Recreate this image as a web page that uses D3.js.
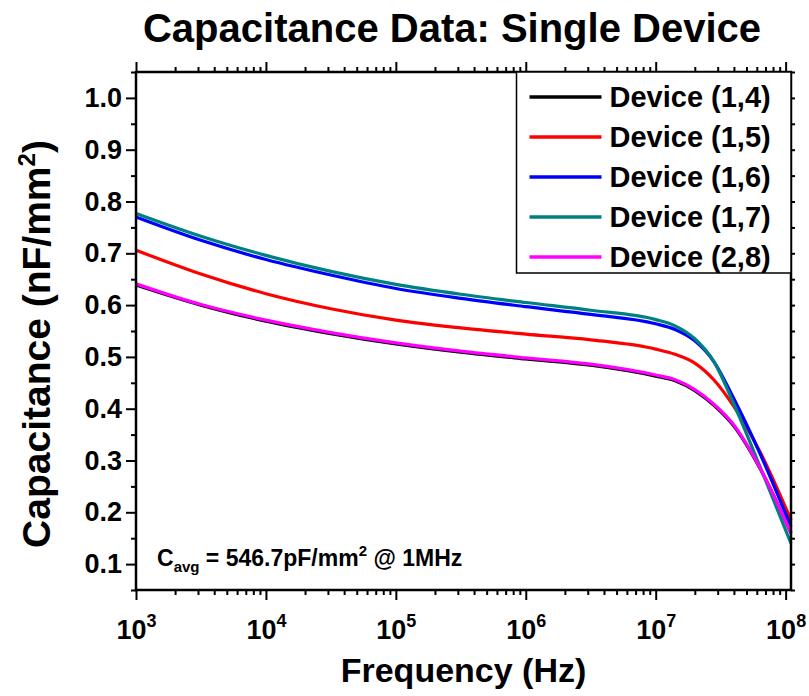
<!DOCTYPE html>
<html>
<head>
<meta charset="utf-8">
<script src="https://cdn.jsdelivr.net/npm/d3@7"></script>
<style>
    body { margin: 0; background: #ffffff; }
    text { font-family: "Liberation Sans", Arial, sans-serif; font-weight: bold; fill: #000; }
</style>
</head>
<body>
<svg id="drawing_region"></svg>
<script>
// frequency points (Hz) the curves were read at
const freqs = [1e3, 3.16e3, 1e4, 3.16e4, 1e5, 3.16e5, 1e6, 3.16e6, 1e7, 1.41e7, 2e7, 2.82e7, 3.98e7, 6.31e7, 1.1e8];

// capacitance (nF/mm^2) per device
const cap14 = [0.639, 0.600, 0.569, 0.545, 0.525, 0.509, 0.496, 0.484, 0.463, 0.454, 0.435, 0.406, 0.367, 0.286, 0.160];
const cap15 = [0.706, 0.660, 0.622, 0.593, 0.571, 0.556, 0.544, 0.533, 0.515, 0.505, 0.488, 0.455, 0.405, 0.318, 0.185];
const cap16 = [0.770, 0.725, 0.688, 0.658, 0.632, 0.613, 0.597, 0.582, 0.564, 0.553, 0.531, 0.490, 0.420, 0.315, 0.172];
const cap17 = [0.777, 0.733, 0.696, 0.665, 0.640, 0.621, 0.605, 0.590, 0.572, 0.560, 0.535, 0.490, 0.410, 0.290, 0.140];
const cap28 = [0.641, 0.601, 0.571, 0.547, 0.527, 0.511, 0.498, 0.486, 0.465, 0.456, 0.437, 0.408, 0.369, 0.287, 0.160];

const deviceNames = ['Device (1,4)', 'Device (1,5)', 'Device (1,6)', 'Device (1,7)', 'Device (2,8)'];
const deviceColors = ['#000000', '#ff0000', '#0000ff', '#008080', '#ff00ff'];

const xMajorTicks = [1e3, 1e4, 1e5, 1e6, 1e7, 1e8];
const xTickExponents = ['3', '4', '5', '6', '7', '8'];
const yMajorTicks = [0.1, 0.2, 0.3, 0.4, 0.5, 0.6, 0.7, 0.8, 0.9, 1.0];
const yTickLabels = ['0.1', '0.2', '0.3', '0.4', '0.5', '0.6', '0.7', '0.8', '0.9', '1.0'];
const yMinorTicks = [0.05, 0.15, 0.25, 0.35, 0.45, 0.55, 0.65, 0.75, 0.85, 0.95, 1.05];

const series = [cap14, cap15, cap16, cap17, cap28].map((vals, i) => ({
    name: deviceNames[i],
    color: deviceColors[i],
    values: vals.map((v, j) => ({ f: freqs[j], c: v }))
}));

class CapPlot {
    constructor(config, data) {
        this.config = config;
        this.data = data;
        this.init();
    }

    init() {
        let self = this;
        const m = self.config.margin;

        self.svg = d3.select(self.config.parent)
            .attr('width', self.config.width)
            .attr('height', self.config.height);

        self.left = m.left;
        self.right = self.config.width - m.right;
        self.top = m.top;
        self.bottom = self.config.height - m.bottom;

        self.xscale = d3.scaleLog()
            .domain([1e3, 1.1e8])
            .range([self.left, self.right]);

        self.yscale = d3.scaleLinear()
            .domain([0.05, 1.05])
            .range([self.bottom, self.top]);

        // minor ticks on the log axis: 2..9 in each decade
        self.xMinor = [];
        xMajorTicks.forEach(d => {
            for (let k = 2; k <= 9; k++) {
                if (d * k <= 1.1e8) self.xMinor.push(d * k);
            }
        });
    }

    render() {
        let self = this;

        const line = d3.line()
            .x(d => self.xscale(d.f))
            .y(d => self.yscale(d.c))
            .curve(d3.curveMonotoneX);

        self.svg.append('g')
            .selectAll('path')
            .data(self.data)
            .join('path')
            .attr('d', d => line(d.values))
            .attr('fill', 'none')
            .attr('stroke', d => d.color)
            .attr('stroke-width', 3.2);

        self.drawAxes();
        self.drawLegend();
        self.drawTexts();
    }

    drawAxes() {
        let self = this;
        const tidy = g => {
            g.select('.domain').remove();
            g.selectAll('line').attr('stroke', '#000').attr('stroke-width', 2);
        };

        // bottom
        self.svg.append('g')
            .attr('transform', `translate(0, ${self.bottom})`)
            .call(d3.axisBottom(self.xscale).tickValues(self.xMinor).tickSize(5).tickFormat(''))
            .call(tidy);
        const xb = self.svg.append('g')
            .attr('transform', `translate(0, ${self.bottom})`)
            .call(d3.axisBottom(self.xscale).tickValues(xMajorTicks).tickSize(10).tickPadding(20).tickFormat(''))
            .call(tidy);
        xb.selectAll('text')
            .attr('font-size', 27)
            .each(function (d) {
                const t = d3.select(this);
                t.append('tspan').text('10');
                t.append('tspan')
                    .attr('dy', -12)
                    .attr('font-size', 18)
                    .text(xTickExponents[xMajorTicks.indexOf(d)]);
            });

        // top
        self.svg.append('g')
            .attr('transform', `translate(0, ${self.top})`)
            .call(d3.axisTop(self.xscale).tickValues(self.xMinor).tickSize(5).tickFormat(''))
            .call(tidy);
        self.svg.append('g')
            .attr('transform', `translate(0, ${self.top})`)
            .call(d3.axisTop(self.xscale).tickValues(xMajorTicks).tickSize(10).tickFormat(''))
            .call(tidy);

        // left
        self.svg.append('g')
            .attr('transform', `translate(${self.left}, 0)`)
            .call(d3.axisLeft(self.yscale).tickValues(yMinorTicks).tickSize(5).tickFormat(''))
            .call(tidy);
        self.svg.append('g')
            .attr('transform', `translate(${self.left}, 0)`)
            .call(d3.axisLeft(self.yscale).tickValues(yMajorTicks).tickSize(10).tickPadding(4)
                .tickFormat((d, i) => yTickLabels[i]))
            .call(tidy)
            .selectAll('text')
            .attr('font-size', 27);

        // right
        self.svg.append('g')
            .attr('transform', `translate(${self.right}, 0)`)
            .call(d3.axisRight(self.yscale).tickValues(yMajorTicks.concat(yMinorTicks)).tickSize(4).tickFormat(''))
            .call(tidy);

        // frame
        self.svg.append('rect')
            .attr('x', self.left)
            .attr('y', self.top)
            .attr('width', self.right - self.left)
            .attr('height', self.bottom - self.top)
            .attr('fill', 'none')
            .attr('stroke', '#000')
            .attr('stroke-width', 2.5);
    }

    drawLegend() {
        let self = this;
        const lg = self.svg.append('g').attr('transform', 'translate(516.5, 72)');

        lg.append('rect')
            .attr('width', self.right - 516.5)
            .attr('height', 201)
            .attr('fill', '#fff')
            .attr('stroke', '#000')
            .attr('stroke-width', 1.5);

        const rows = lg.selectAll('.row')
            .data(self.data)
            .join('g')
            .attr('transform', (d, i) => `translate(0, ${25 + i * 40})`);

        rows.append('line')
            .attr('x1', 13).attr('x2', 85)
            .attr('stroke', d => d.color)
            .attr('stroke-width', 3.5);

        rows.append('text')
            .attr('x', 93)
            .attr('y', 10)
            .attr('font-size', 29)
            .text(d => d.name);
    }

    drawTexts() {
        let self = this;

        self.svg.append('text')
            .attr('x', 452)
            .attr('y', 42)
            .attr('text-anchor', 'middle')
            .attr('font-size', 40)
            .text('Capacitance Data: Single Device');

        self.svg.append('text')
            .attr('x', (self.left + self.right) / 2)
            .attr('y', 682)
            .attr('text-anchor', 'middle')
            .attr('font-size', 34)
            .text('Frequency (Hz)');

        const yl = self.svg.append('text')
            .attr('transform', 'translate(50, 344) rotate(-90)')
            .attr('text-anchor', 'middle')
            .attr('font-size', 39);
        yl.append('tspan').text('Capacitance (nF/mm');
        yl.append('tspan').attr('dy', -15).attr('font-size', 24).text('2');
        yl.append('tspan').attr('dy', 15).text(')');

        const note = self.svg.append('text')
            .attr('x', 157)
            .attr('y', 566)
            .attr('font-size', 23);
        note.append('tspan').text('C');
        note.append('tspan').attr('dy', 6).attr('font-size', 15).text('avg');
        note.append('tspan').attr('dy', -6).text(' = 546.7pF/mm');
        note.append('tspan').attr('dy', -10).attr('font-size', 15).text('2');
        note.append('tspan').attr('dy', 10).text(' @ 1MHz');
    }
}

const config = {
    parent: '#drawing_region',
    width: 809,
    height: 696,
    margin: { top: 72, right: 18, bottom: 106, left: 136 }
};

const plot = new CapPlot(config, series);
plot.render();
</script>
</body>
</html>
